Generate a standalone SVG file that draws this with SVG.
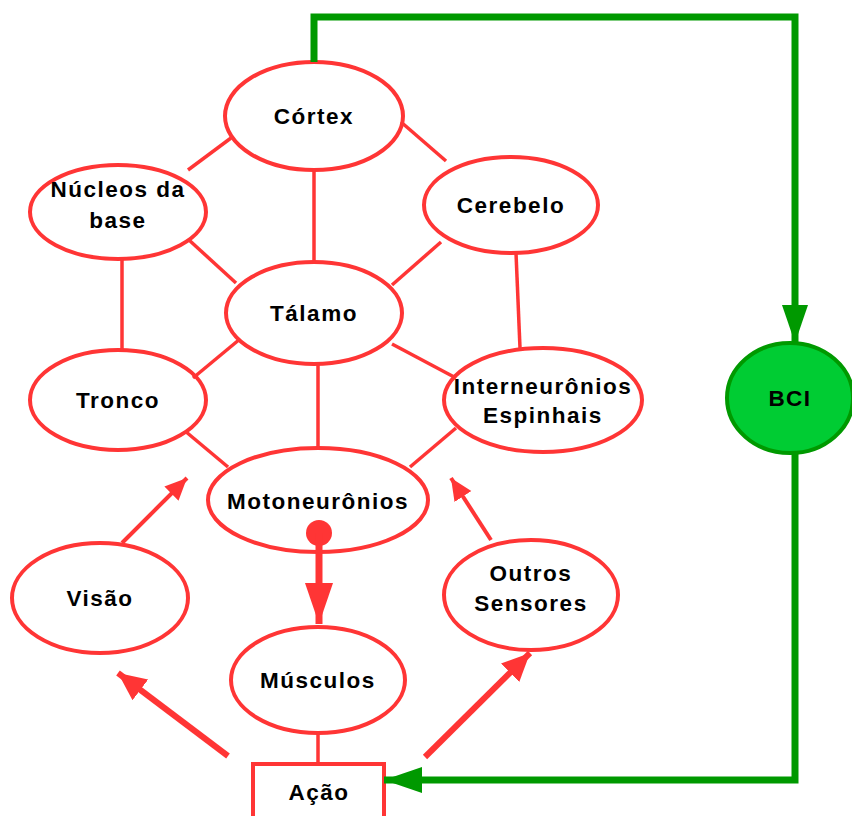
<svg xmlns="http://www.w3.org/2000/svg" width="852" height="816" viewBox="0 0 852 816">
<style>
.n ellipse,.n rect{fill:#fff;stroke:#ff3535;stroke-width:4}
.t{font-family:"Liberation Sans",Arial,sans-serif;font-weight:bold;font-size:22.5px;letter-spacing:1.5px;fill:#000;text-anchor:middle}
.c line{stroke:#ff3535;stroke-width:3.5}
.a1{stroke:#ff3535;stroke-width:4;fill:none}
.a2{stroke:#ff3535;stroke-width:6;fill:none}
.g{stroke:#009900;stroke-width:7;fill:none}
</style>
<defs>
<marker id="m1" markerUnits="userSpaceOnUse" markerWidth="24" markerHeight="22" refX="22" refY="10" orient="auto"><path d="M0,0L22,10L0,20z" fill="#ff3535"/></marker>
<marker id="m2" markerUnits="userSpaceOnUse" markerWidth="30" markerHeight="28" refX="28" refY="13" orient="auto"><path d="M0,0L28,13L0,26z" fill="#ff3535"/></marker>
<marker id="m3" markerUnits="userSpaceOnUse" markerWidth="44" markerHeight="30" refX="41" refY="14" orient="auto"><path d="M0,0L41,14L0,28z" fill="#ff3535"/></marker>
<marker id="mg" markerUnits="userSpaceOnUse" markerWidth="40" markerHeight="28" refX="38" refY="13" orient="auto"><path d="M0,0L38,13L0,26z" fill="#009900"/></marker>
</defs>
<g id="cortex" class="n"><ellipse cx="314" cy="116" rx="89" ry="54"/><text class="t" x="314" y="124">Córtex</text></g>
<g id="nucleos" class="n"><ellipse cx="118" cy="212" rx="88" ry="47"/><text class="t" x="118" y="197">Núcleos da</text><text class="t" x="118" y="228">base</text></g>
<g id="cerebelo" class="n"><ellipse cx="511" cy="205" rx="87" ry="48"/><text class="t" x="511" y="213">Cerebelo</text></g>
<g id="talamo" class="n"><ellipse cx="314" cy="313" rx="88" ry="51"/><text class="t" x="314" y="321">Tálamo</text></g>
<g id="tronco" class="n"><ellipse cx="118" cy="400" rx="88" ry="50"/><text class="t" x="118" y="408">Tronco</text></g>
<g id="interneuronios" class="n"><ellipse cx="543" cy="400" rx="99" ry="52"/><text class="t" x="543" y="394">Interneurônios</text><text class="t" x="543" y="423">Espinhais</text></g>
<g id="motoneuronios" class="n"><ellipse cx="318" cy="500" rx="110" ry="52"/><text class="t" x="318" y="509">Motoneurônios</text></g>
<g id="visao" class="n"><ellipse cx="100" cy="598" rx="88" ry="55"/><text class="t" x="100" y="606">Visão</text></g>
<g id="outros" class="n"><ellipse cx="531" cy="595" rx="87" ry="55"/><text class="t" x="531" y="581">Outros</text><text class="t" x="531" y="611">Sensores</text></g>
<g id="musculos" class="n"><ellipse cx="318" cy="680" rx="87" ry="53"/><text class="t" x="318" y="688">Músculos</text></g>
<g id="acao" class="n"><rect x="253" y="764" width="131" height="56"/><text class="t" x="319" y="800">Ação</text></g>
<g id="bci"><ellipse cx="790" cy="398" rx="63" ry="55" fill="#00cc33" stroke="#009900" stroke-width="4"/><text class="t" x="790" y="406">BCI</text></g>
<g id="connectors">
<g class="c">
<line x1="188" y1="170" x2="231" y2="138"/>
<line x1="401" y1="122" x2="446" y2="161"/>
<line x1="314" y1="170" x2="314" y2="262"/>
<line x1="189" y1="240" x2="236" y2="283"/>
<line x1="441" y1="242" x2="392" y2="285"/>
<line x1="122" y1="259" x2="122" y2="351"/>
<line x1="516" y1="253" x2="520" y2="348"/>
<line x1="240" y1="339" x2="193" y2="378"/>
<line x1="392" y1="344" x2="456" y2="378"/>
<line x1="318" y1="364" x2="318" y2="448"/>
<line x1="185" y1="431" x2="228" y2="467"/>
<line x1="456" y1="428" x2="410" y2="467"/>
<line x1="318" y1="733" x2="318" y2="764"/>
</g>
<line class="a1" x1="122" y1="543" x2="187" y2="478" marker-end="url(#m1)"/>
<line class="a1" x1="491" y1="540" x2="451" y2="478" marker-end="url(#m1)"/>
<line class="a2" x1="228" y1="756" x2="118" y2="673" marker-end="url(#m2)"/>
<line class="a2" x1="425" y1="757" x2="530" y2="653" marker-end="url(#m2)"/>
<circle cx="319" cy="533" r="13" fill="#ff3535"/>
<line x1="319" y1="533" x2="319" y2="624" stroke="#ff3535" stroke-width="7" marker-end="url(#m3)"/>
<polyline class="g" points="314,62 314,17 795,17 795,343" marker-end="url(#mg)"/>
<polyline class="g" points="795,453 795,780 384,780" marker-end="url(#mg)"/>
</g>
</svg>
